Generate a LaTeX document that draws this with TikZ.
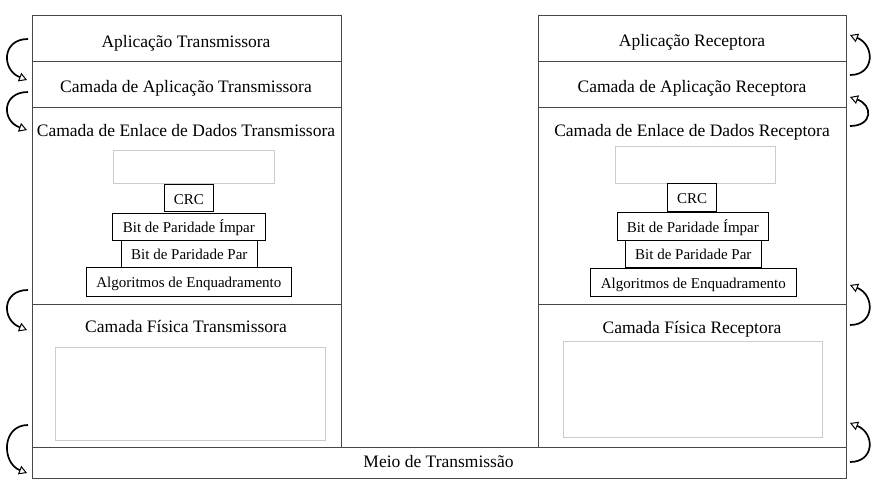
\documentclass[tikz,border=0pt]{standalone}
\usepackage{fontspec}
\setmainfont{Liberation Serif}
\usetikzlibrary{arrows.meta}
\begin{document}
\begin{tikzpicture}[x=1pt,y=-1pt,
  layer/.style={draw=black!72, line width=1pt, inner sep=0pt, anchor=north west, fill=white},
  title/.style={anchor=base, inner sep=0pt, font=\fontsize{17.5}{20}\selectfont, text=black},
  smallbox/.style={draw=black, line width=0.9pt, inner sep=0pt, fill=white, font=\fontsize{15}{18}\selectfont, text height=12pt, text depth=0pt, text=black},
  placeholder/.style={draw=black!20, line width=0.8pt, inner sep=0pt, fill=white},
  flow/.style={line width=1.7pt, black, -{Triangle[open, length=8pt, width=9pt, line width=1pt]}}
]
\useasboundingbox (0,0) rectangle (880,493);
\fill[white] (0,0) rectangle (880,493);

% left column
\node[layer, minimum width=309pt, minimum height=46pt] (apT) at (31.5,15) {};
\node[layer, minimum width=309pt, minimum height=46pt] (capT) at (31.5,61) {};
\node[layer, minimum width=309pt, minimum height=196.5pt] (enT) at (31.5,107) {};
\node[layer, minimum width=309pt, minimum height=143pt] (fisT) at (31.5,303.5) {};
% right column
\node[layer, minimum width=308.5pt, minimum height=46pt] (apR) at (537.5,15) {};
\node[layer, minimum width=308.5pt, minimum height=46pt] (capR) at (537.5,61) {};
\node[layer, minimum width=308.5pt, minimum height=197pt] (enR) at (537.5,107) {};
\node[layer, minimum width=308.5pt, minimum height=142.5pt] (fisR) at (537.5,304) {};
% medium
\node[layer, minimum width=814.5pt, minimum height=31pt] (meio) at (31.5,446.5) {};

% titles
\node[title] (tApT) at (186,47) {Aplicação Transmissora};
\node[title] (tCapT) at (186,92.5) {Camada de Aplicação Transmissora};
\node[title] (tEnT) at (186,136) {Camada de Enlace de Dados Transmissora};
\node[title] (tFisT) at (186,332.5) {Camada Física Transmissora};
\node[title] (tApR) at (692,46.5) {Aplicação Receptora};
\node[title] (tCapR) at (692,92) {Camada de Aplicação Receptora};
\node[title] (tEnR) at (692,136) {Camada de Enlace de Dados Receptora};
\node[title] (tFisR) at (692,333) {Camada Física Receptora};
\node[title] (tMeio) at (438.5,467.5) {Meio de Transmissão};

% left inner boxes
\node[placeholder, minimum width=161pt, minimum height=33pt] (phT) at (193.5,166.5) {};
\node[smallbox, minimum width=49pt, minimum height=27.4pt] (crcT) at (188.8,198) {CRC};
\node[smallbox, minimum width=152.3pt, minimum height=26.7pt] (impT) at (188.85,226.65) {Bit de Paridade Ímpar};
\node[smallbox, minimum width=135.3pt, minimum height=27.7pt] (parT) at (189.35,253.85) {Bit de Paridade Par};
\node[smallbox, minimum width=204.3pt, minimum height=28.3pt] (algT) at (188.85,281.85) {Algoritmos de Enquadramento};
\node[placeholder, minimum width=270pt, minimum height=92.3pt] (phyT) at (190.3,393.85) {};

% right inner boxes
\node[placeholder, minimum width=159.3pt, minimum height=37pt] (phR) at (695.35,164.5) {};
\node[smallbox, minimum width=49pt, minimum height=28.4pt] (crcR) at (692.2,197.5) {CRC};
\node[smallbox, minimum width=151pt, minimum height=27.3pt] (impR) at (692.8,226.35) {Bit de Paridade Ímpar};
\node[smallbox, minimum width=136pt, minimum height=27.7pt] (parR) at (693.3,253.85) {Bit de Paridade Par};
\node[smallbox, minimum width=205.3pt, minimum height=27.7pt] (algR) at (693.35,282.15) {Algoritmos de Enquadramento};
\node[placeholder, minimum width=259.4pt, minimum height=95.6pt] (phyR) at (693,389.5) {};

% arrow end points
\coordinate (l1s) at (28,39);  \coordinate (l1e) at (27,80);
\coordinate (l2s) at (28,92);  \coordinate (l2e) at (27,130);
\coordinate (l3s) at (28,290); \coordinate (l3e) at (27,330);
\coordinate (l4s) at (28,425); \coordinate (l4e) at (27,473);
\coordinate (r1s) at (850,75);  \coordinate (r1e) at (850,35);
\coordinate (r2s) at (850,126); \coordinate (r2e) at (850,97);
\coordinate (r3s) at (850,325); \coordinate (r3e) at (850,285);
\coordinate (r4s) at (850,462); \coordinate (r4e) at (850,423);

\draw[flow] (l1s) .. controls (1.5,39) and (1.5,70) .. (l1e);
\draw[flow] (l2s) .. controls (1.5,92) and (1.5,121) .. (l2e);
\draw[flow] (l3s) .. controls (1.5,290) and (1.5,320) .. (l3e);
\draw[flow] (l4s) .. controls (1.5,425) and (1.5,463) .. (l4e);
\draw[flow] (r1s) .. controls (875,75) and (875,45) .. (r1e);
\draw[flow] (r2s) .. controls (873,126) and (873,105) .. (r2e);
\draw[flow] (r3s) .. controls (875,325) and (875,295) .. (r3e);
\draw[flow] (r4s) .. controls (875,462) and (875,433) .. (r4e);
\end{tikzpicture}
\end{document}
